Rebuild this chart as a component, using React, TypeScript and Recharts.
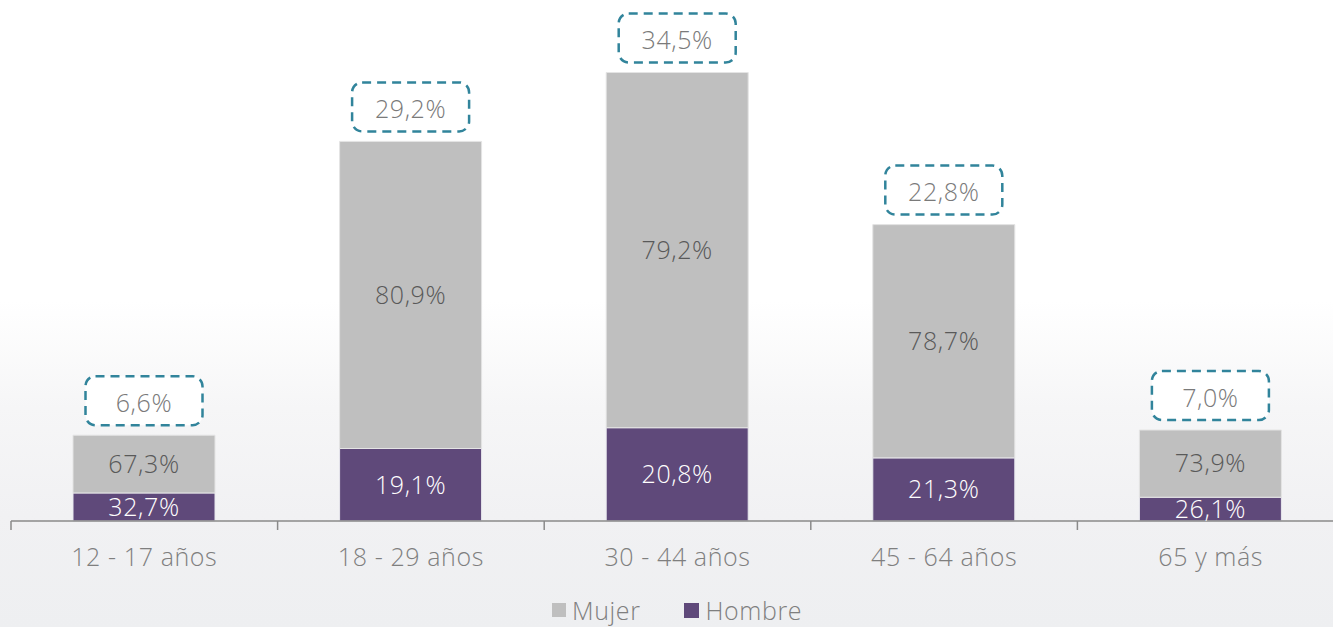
import React from 'react';
import { BarChart, Bar, XAxis, YAxis, Legend, LabelList } from 'recharts';

const categories = ['12 - 17 años', '18 - 29 años', '30 - 44 años', '45 - 64 años', '65 y más'];
const totals = [6.6, 29.2, 34.5, 22.8, 7.0];
const mujerShare = [67.3, 80.9, 79.2, 78.7, 73.9];
const hombreShare = [32.7, 19.1, 20.8, 21.3, 26.1];

const data = categories.map((name, i) => ({
  name,
  total: totals[i],
  mujerPct: mujerShare[i],
  hombrePct: hombreShare[i],
  hombre: (totals[i] * hombreShare[i]) / 100,
  mujer: (totals[i] * mujerShare[i]) / 100,
}));

const FONT = '"Open Sans", sans-serif';
const CHART_W = 1345;
const CHART_H = 627;
const MARGIN = { top: 1, right: 1, left: 11, bottom: 0 };
const BAND_HALF = (CHART_W - MARGIN.left - MARGIN.right) / categories.length / 2;

const textStyle = { fontFamily: FONT, fontWeight: 300, fontSize: 25, letterSpacing: 0.6 };

const fmt = (v: number) => v.toFixed(1).replace('.', ',') + '%';

const AxisTick = (props: any) => {
  const { x, y, payload } = props;
  return (
    <g>
      <line x1={x - BAND_HALF} x2={x - BAND_HALF} y1={y} y2={y + 9} stroke="#8a8a8a" strokeWidth={1.5} />
      <text x={x} y={y + 45} textAnchor="middle" fill="#7f7f7f" style={textStyle}>
        {payload.value}
      </text>
    </g>
  );
};

const TotalBox = (props: any) => {
  const { x, y, width, index } = props;
  const cx = x + width / 2;
  const bw = 117;
  const bh = 49;
  const by = y - 10 - bh;
  return (
    <g>
      <rect x={cx - bw / 2} y={by} width={bw} height={bh} rx={10} ry={10} fill="#ffffff" stroke="#31849B" strokeWidth={2.5} strokeDasharray="9 6" />
      <text x={cx} y={by + bh / 2 + 1} textAnchor="middle" dominantBaseline="central" fill="#7a7a7a" style={textStyle}>
        {fmt(totals[index])}
      </text>
    </g>
  );
};

const LegendContent = () => (
  <div style={{ display: 'flex', alignItems: 'center', fontFamily: FONT, fontWeight: 300, fontSize: 25, letterSpacing: 0.6, color: '#7f7f7f', height: 26, lineHeight: '26px' }}>
    <span style={{ width: 14, height: 14, background: '#BFBFBF', display: 'inline-block', marginRight: 6 }} />
    <span style={{ marginRight: 44 }}>Mujer</span>
    <span style={{ width: 15, height: 15, background: '#5F497A', display: 'inline-block', marginRight: 6 }} />
    <span>Hombre</span>
  </div>
);

export default function App() {
  return (
    <div
      style={{
        position: 'absolute',
        left: 0,
        top: 0,
        width: 1333,
        height: 627,
        overflow: 'hidden',
        background: 'linear-gradient(to bottom, #ffffff 0%, #ffffff 48%, #f6f6f7 65%, #f1f1f3 82%, #eeeff1 100%)',
      }}
    >
      <BarChart width={CHART_W} height={CHART_H} data={data} margin={MARGIN}>
        <XAxis
          dataKey="name"
          axisLine={{ stroke: '#8a8a8a', strokeWidth: 1.5 }}
          tickLine={false}
          tickSize={0}
          tickMargin={0}
          height={76}
          interval={0}
          tick={<AxisTick />}
        />
        <YAxis hide domain={[0, 40]} />
        <Legend
          verticalAlign="bottom"
          content={<LegendContent />}
          wrapperStyle={{ height: 30, left: 552, width: 320, bottom: 0 }}
        />
        <Bar dataKey="hombre" stackId="a" fill="#5F497A" stroke="#e8e8ee" strokeWidth={1} barSize={142} isAnimationActive={false}>
          <LabelList
            dataKey="hombrePct"
            position="center"
            offset={0}
            formatter={(v: any) => fmt(Number(v))}
            fill="#ffffff"
            style={textStyle}
          />
        </Bar>
        <Bar dataKey="mujer" stackId="a" fill="#BFBFBF" stroke="#e4e4e4" strokeWidth={1} barSize={142} isAnimationActive={false}>
          <LabelList
            dataKey="mujerPct"
            position="center"
            formatter={(v: any) => fmt(Number(v))}
            fill="#595959"
            style={textStyle}
          />
          <LabelList dataKey="total" content={<TotalBox />} />
        </Bar>
      </BarChart>
    </div>
  );
}
